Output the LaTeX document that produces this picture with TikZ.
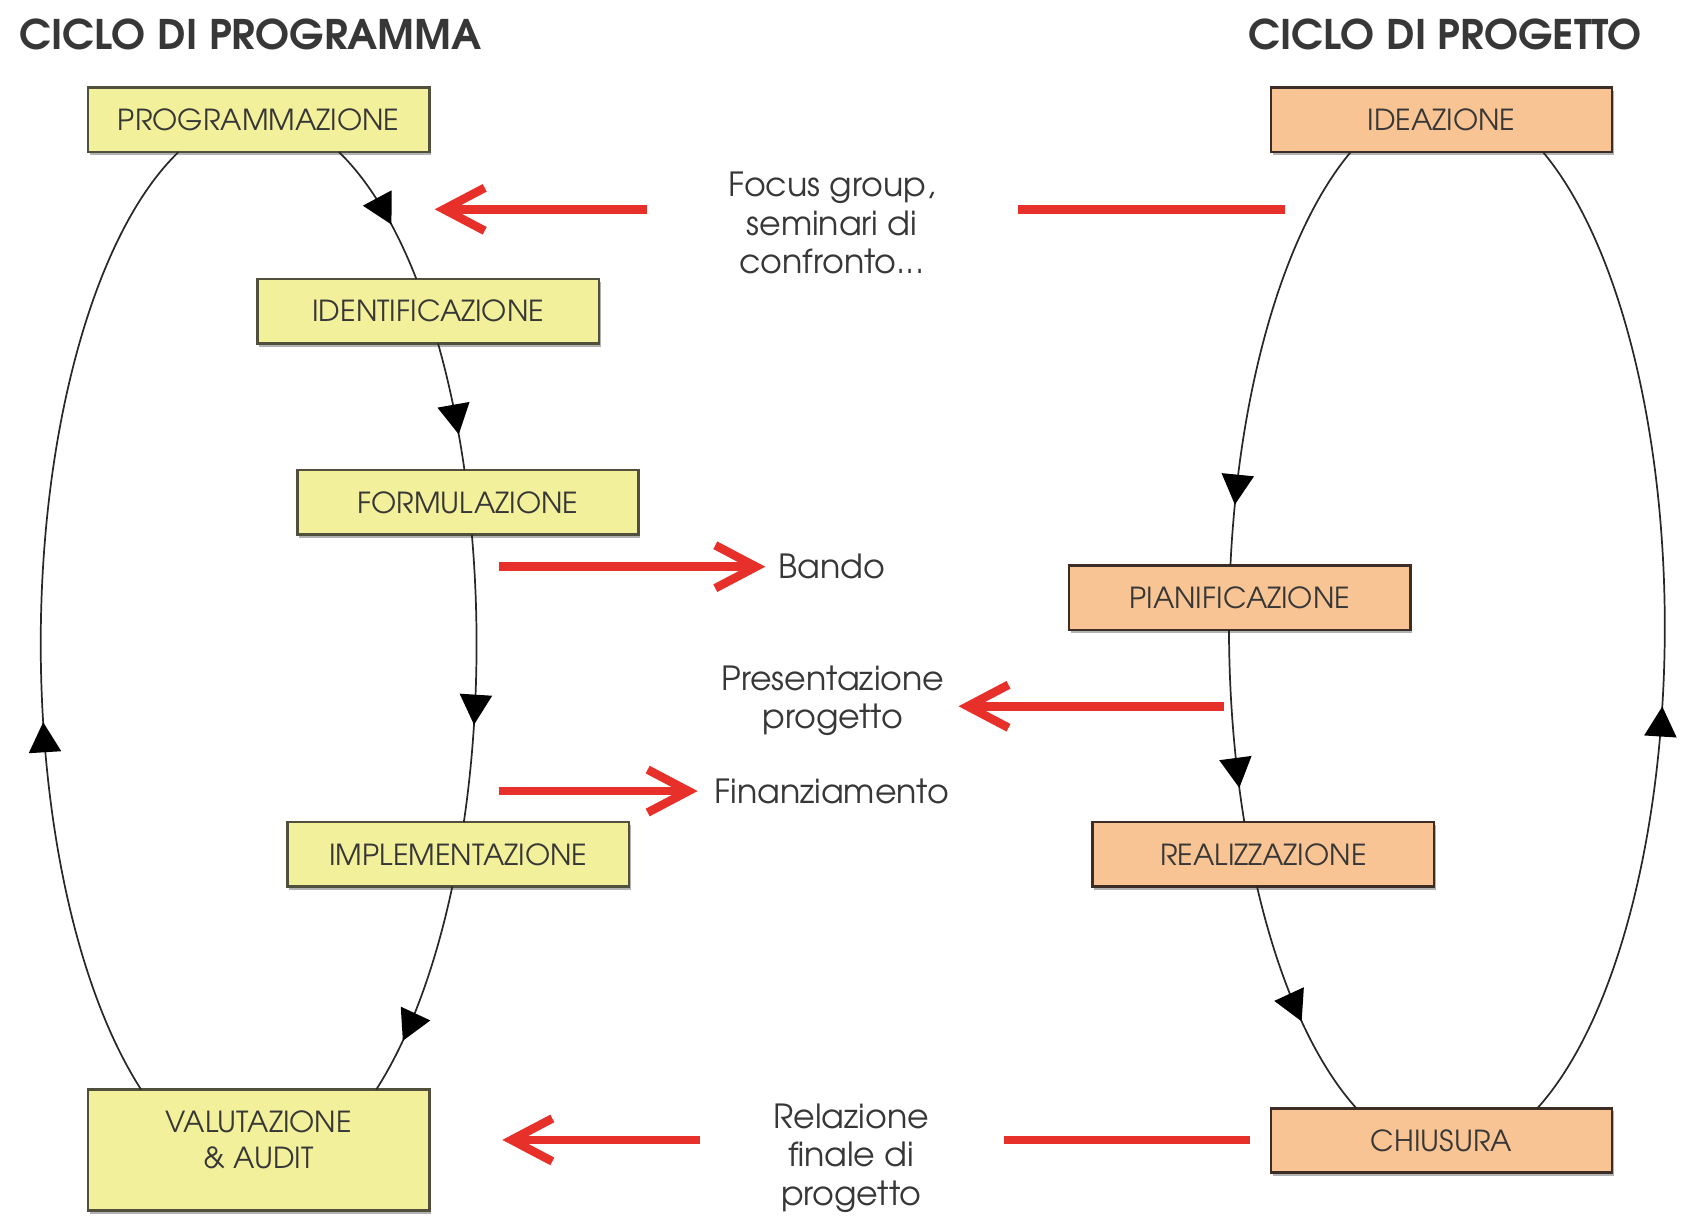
\documentclass[tikz,border=0pt]{standalone}
\usepackage{fontspec}
\setmainfont{texgyreadventor}[Extension=.otf, UprightFont=*-regular, BoldFont=*-bold, ItalicFont=*-italic, BoldItalicFont=*-bolditalic]
\usetikzlibrary{arrows.meta,decorations.markings,shadows}
\definecolor{yfill}{RGB}{242,240,154}
\definecolor{ofill}{RGB}{249,196,147}
\definecolor{yedge}{RGB}{80,80,60}
\definecolor{oedge}{RGB}{60,46,38}
\definecolor{txtc}{RGB}{55,55,55}
\definecolor{redc}{RGB}{232,48,42}
\definecolor{curvec}{RGB}{40,40,40}
\newcommand{\bxfont}{\fontsize{13.5}{16.5}\selectfont}
\newcommand{\lblfont}{\fontsize{15.5}{18}\selectfont}
\newcommand{\ttlfont}{\fontsize{19}{22}\selectfont\bfseries}
\begin{document}
\begin{tikzpicture}[x=0.5pt,y=-0.5pt,
  cbox/.style={rectangle, draw=yedge, line width=1.2pt, fill=yfill, minimum width=159pt, minimum height=30pt, inner sep=0pt, outer sep=0pt, font=\bxfont, text=txtc, drop shadow={shadow xshift=0.8pt, shadow yshift=-1.5pt, fill=black!30, opacity=1}},
  pbox/.style={cbox, draw=oedge, fill=ofill},
  flow/.style={draw=curvec, line width=0.8pt},
  midtip/.style={postaction={decorate}, decoration={markings, mark=at position #1 with {\arrow[black]{Triangle[length=14pt,width=15pt]}}}},
  redline/.style={draw=redc, line width=4pt},
  redarrow/.style={redline, -{Straight Barb[length=19pt,width=20pt]}},
  lbl/.style={font=\lblfont, text=txtc, inner sep=0pt, align=center},
  ttl/.style={font=\ttlfont, text=txtc, inner sep=0pt}]
\useasboundingbox (0,0) rectangle (1568,1132);

% titles
\node[ttl, anchor=base west] (t1) at (18,46) {CICLO DI PROGRAMMA};
\node[ttl, anchor=base east] (t2) at (1530,46) {CICLO DI PROGETTO};

% programme cycle boxes
\node[cbox] (prog) at (241,111.5) {PROGRAMMAZIONE};
\node[cbox] (ident) at (399,290) {IDENTIFICAZIONE};
\node[cbox] (form) at (436,468) {FORMULAZIONE};
\node[cbox] (impl) at (427,796) {IMPLEMENTAZIONE};
\node[cbox, minimum height=56.5pt] (val) at (241,1071.5) {};
\node[font=\bxfont, text=txtc, align=center, inner sep=0pt] (valtxt) at (241,1062) {VALUTAZIONE\\\& AUDIT};

% project cycle boxes
\node[pbox] (idea) at (1343,111.5) {IDEAZIONE};
\node[pbox] (pian) at (1155,557) {PIANIFICAZIONE};
\node[pbox] (real) at (1177,796) {REALIZZAZIONE};
\node[pbox] (chius) at (1343,1062.5) {CHIUSURA};

% programme cycle connectors (arcs of one ellipse)
\draw[flow, midtip=0.6] ([xshift=37.3pt]prog.south) arc[start angle=68.43, end angle=43.6, x radius=101.5pt, y radius=246.5pt];
\draw[flow, midtip=0.72] ([xshift=4.55pt]ident.south) arc[start angle=34.61, end angle=19.18, x radius=101.5pt, y radius=246.5pt];
\draw[flow, midtip=0.66] ([xshift=1.8pt]form.south) arc[start angle=11.94, end angle=-19.68, x radius=101.5pt, y radius=246.5pt];
\draw[flow, midtip=0.745] ([xshift=-2.8pt]impl.south) arc[start angle=-27.28, end angle=-57.33, x radius=101.5pt, y radius=246.5pt];
\draw[flow, midtip=0.39] ([xshift=-54.8pt]val.north) arc[start angle=-122.67, end angle=-248.43, x radius=101.5pt, y radius=246.5pt];

% project cycle connectors
\draw[flow, midtip=0.86] ([xshift=-42.25pt]idea.south) arc[start angle=-243.85, end angle=-186.64, x radius=101.5pt, y radius=246.5pt];
\draw[flow, midtip=0.82] ([xshift=-5pt]pian.south) arc[start angle=-179.65, end angle=-158.33, x radius=101.5pt, y radius=246.5pt];
\draw[flow, midtip=0.58] ([xshift=-2.95pt]real.south) arc[start angle=-150.60, end angle=-114.54, x radius=101.5pt, y radius=246.5pt];
\draw[flow, midtip=0.425] ([xshift=44.65pt]chius.north) arc[start angle=-65.46, end angle=63.85, x radius=101.5pt, y radius=246.5pt];

% middle labels
\node[lbl] (focus) at (775,208) {Focus group,\\seminari di\\confronto...};
\node[lbl, anchor=west, inner xsep=6pt] (bando) at (713,528) {Bando};
\node[lbl] (pres) at (776,653) {Presentazione\\progetto};
\node[lbl, anchor=west, inner xsep=7.5pt] (fin) at (650,737) {Finanziamento};
\node[lbl] (rel) at (793,1079) {Relazione\\finale di\\progetto};

% red connectors
\coordinate (focusA) at (603,195);
\coordinate (focusTip) at (405,195);
\coordinate (focusB) at (948,195);
\coordinate (focusC) at (1197,195);
\draw[redarrow] (focusA) -- (focusTip);
\draw[redline] (focusB) -- (focusC);

\coordinate (bandoS) at (465,528);
\draw[redarrow] (bandoS) -- (bando.west);

\coordinate (presA) at (1140,658);
\coordinate (presTip) at (893,658);
\draw[redarrow] (presA) -- (presTip);

\coordinate (finS) at (465,737);
\draw[redarrow] (finS) -- (fin.west);

\coordinate (relA) at (652,1062);
\coordinate (relTip) at (468,1062);
\coordinate (relB) at (935,1062);
\coordinate (relC) at (1165,1062);
\draw[redarrow] (relA) -- (relTip);
\draw[redline] (relB) -- (relC);
\end{tikzpicture}
\end{document}
